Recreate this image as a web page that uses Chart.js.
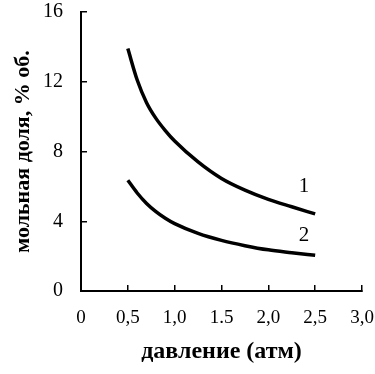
<!DOCTYPE html>
<html>
<head>
<meta charset="utf-8">
<script src="https://cdn.jsdelivr.net/npm/chart.js@4/dist/chart.umd.min.js"></script>
<style>
  body { margin: 0; background: #fff; }
</style>
</head>
<body>
<canvas id="myChart" width="375" height="374"></canvas>
<script>
// давление, атм
var pressure = [0.5, 0.6, 0.7, 0.8, 0.9, 1.0, 1.25, 1.5, 1.75, 2.0, 2.25, 2.5];
// кривая 1 и кривая 2, мольная доля % об.
var curve1 = [13.9, 12.1, 10.8, 9.9, 9.2, 8.6, 7.4, 6.45, 5.78, 5.25, 4.83, 4.42];
var curve2 = [6.35, 5.62, 5.02, 4.55, 4.17, 3.86, 3.3, 2.9, 2.6, 2.36, 2.2, 2.05];
var xTickLabels = ['0', '0,5', '1,0', '1.5', '2,0', '2,5', '3,0'];
var yTickLabels = ['0', '4', '8', '12', '16'];
var curveNames = ['1', '2'];

function toPoints(ys) {
    return pressure.map(function (p, i) { return { x: p, y: ys[i] }; });
}

// подписи кривых "1" и "2"
var curveLabels = {
    id: 'curveLabels',
    afterDatasetsDraw: function (chart) {
        var ctx = chart.ctx;
        var xs = chart.scales.x, ys = chart.scales.y;
        var spots = [[2.38, 6.0], [2.38, 3.2]];
        ctx.save();
        ctx.fillStyle = '#000';
        ctx.font = '21px "Liberation Serif"';
        ctx.textAlign = 'center';
        ctx.textBaseline = 'middle';
        curveNames.forEach(function (n, i) {
            ctx.fillText(n, xs.getPixelForValue(spots[i][0]), ys.getPixelForValue(spots[i][1]));
        });
        ctx.restore();
    }
};

var ctx = document.getElementById('myChart').getContext('2d');
var chart = new Chart(ctx, {
    type: 'line',
    data: {
        datasets: [
            {
                label: curveNames[0],
                data: toPoints(curve1),
                borderColor: '#000',
                borderWidth: 3.5,
                pointRadius: 0,
                cubicInterpolationMode: 'monotone'
            },
            {
                label: curveNames[1],
                data: toPoints(curve2),
                borderColor: '#000',
                borderWidth: 3.5,
                pointRadius: 0,
                cubicInterpolationMode: 'monotone'
            }
        ]
    },
    options: {
        responsive: false,
        animation: false,
        layout: { padding: { top: 12, right: 13, left: 0, bottom: 0 } },
        plugins: { legend: { display: false }, tooltip: { enabled: false } },
        scales: {
            x: {
                type: 'linear',
                min: 0,
                max: 3,
                afterFit: function (s) { s.height = 83; s.paddingLeft = 0; s.paddingRight = 0; },
                border: { color: '#000', width: 2 },
                grid: { drawOnChartArea: false, color: '#000', lineWidth: 1.5, tickLength: -6 },
                ticks: {
                    stepSize: 0.5,
                    padding: 22,
                    color: '#000',
                    font: { family: '"Liberation Serif"', size: 19 },
                    callback: function (v) { return xTickLabels[Math.round(v * 2)]; }
                },
                title: {
                    display: true,
                    text: 'давление (атм)',
                    color: '#000',
                    font: { family: '"Liberation Serif"', size: 24, weight: 'bold' },
                    padding: { top: 0, bottom: 8 }
                }
            },
            y: {
                min: 0,
                max: 16,
                afterFit: function (s) { s.width = 81; s.paddingTop = 0; s.paddingBottom = 0; },
                border: { color: '#000', width: 2 },
                grid: { drawOnChartArea: false, color: '#000', lineWidth: 1.5, tickLength: -6 },
                ticks: {
                    stepSize: 4,
                    padding: 24,
                    color: '#000',
                    font: { family: '"Liberation Serif"', size: 20 },
                    callback: function (v) { return yTickLabels[v / 4]; }
                },
                title: {
                    display: true,
                    text: 'мольная доля, % об.',
                    color: '#000',
                    font: { family: '"Liberation Serif"', size: 22, weight: 'bold' },
                    padding: { top: 10, bottom: 0 }
                }
            }
        }
    },
    plugins: [curveLabels]
});
</script>
</body>
</html>
